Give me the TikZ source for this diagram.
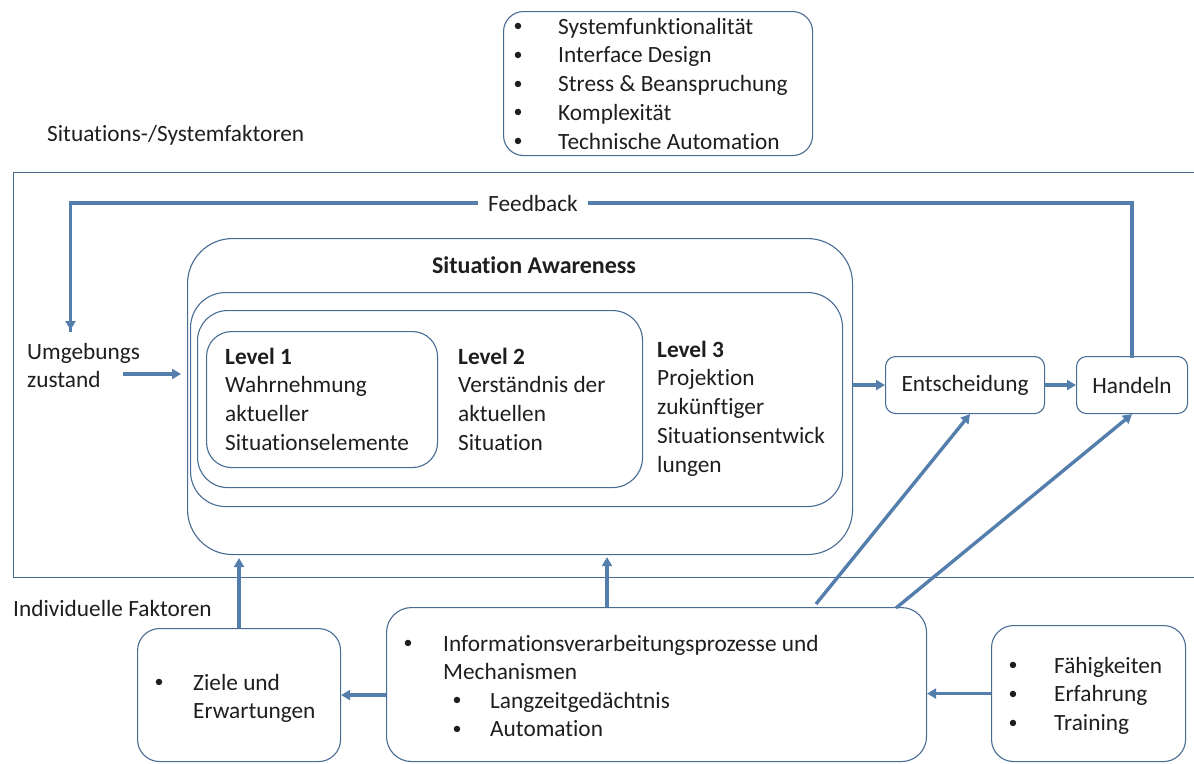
\documentclass[tikz,border=0pt]{standalone}
\usepackage{fontspec}
\setmainfont{Carlito}[Ligatures=NoCommon]
\usetikzlibrary{arrows.meta}
\definecolor{boxline}{RGB}{72,108,148}
\definecolor{arrowc}{RGB}{84,126,172}
\definecolor{ink}{RGB}{30,30,30}
% stack of lines, baseline = baseline of the first line
\newcommand{\txtlines}[1]{\vtop{\baselineskip=28.8pt\lineskiplimit=-20pt\halign{##\hfil\cr#1\crcr}}}
\newcommand{\bt}{\raisebox{2.5pt}{\fontsize{18}{20}\selectfont •}}
\begin{document}
\begin{tikzpicture}[x=1pt,y=-1pt,
  every node/.style={text=ink,font=\fontsize{23.3}{28}\selectfont},
  frame/.style={draw=boxline,line width=1.1pt,anchor=north west,inner sep=0pt},
  rbox/.style={frame,rounded corners=#1},
  txt/.style={anchor=base west,inner sep=0pt},
  bul/.style={anchor=base,inner sep=0pt},
  arr/.style={draw=arrowc,line width=3.4pt,-{Triangle[length=9pt,width=10pt]}},
  fline/.style={draw=arrowc,line width=3.4pt}]
\useasboundingbox (0,0) rectangle (1194,763);

% boxes
\node[frame,minimum width=1190pt,minimum height=405pt] (outer) at (13,172) {};
\node[rbox=20pt,minimum width=309pt,minimum height=144pt] (sys) at (503,11) {};
\node[rbox=45pt,minimum width=665pt,minimum height=316pt] (sa) at (187,238) {};
\node[rbox=35pt,minimum width=652pt,minimum height=214pt] (lvlc) at (190,292) {};
\node[rbox=30pt,minimum width=445pt,minimum height=177pt] (lvlb) at (197,310) {};
\node[rbox=25pt,minimum width=231pt,minimum height=136pt] (lvla) at (206,331) {};
\node[rbox=10pt,minimum width=159pt,minimum height=57pt] (ent) at (885,356) {};
\node[rbox=10pt,minimum width=111pt,minimum height=57pt] (hand) at (1076,356) {};
\node[rbox=22pt,minimum width=203pt,minimum height=133pt] (ziele) at (137,628) {};
\node[rbox=25pt,minimum width=540pt,minimum height=154pt] (info) at (386,607) {};
\node[rbox=22pt,minimum width=194pt,minimum height=136pt] (fah) at (991,625) {};

% texts
\node[bul] (sysb) at (518,34) {\txtlines{\bt\cr\bt\cr\bt\cr\bt\cr\bt}};
\node[txt] (syst) at (558,34) {\txtlines{Systemfunktionalität\cr Interface Design\cr Stress \& Beanspruchung\cr Komplexität\cr Technische Automation}};
\node[txt] (sitsys) at (47,141) {Situations-/Systemfaktoren};
\node[txt] (umg) at (27,359) {\txtlines{Umgebungs\cr zustand}};
\node[bul] (satitle) at (534,273) {\fontsize{24}{28}\selectfont\textbf{Situation Awareness}};
\node[txt] (la) at (225,364) {\txtlines{\textbf{Level 1}\cr Wahrnehmung\cr aktueller\cr Situationselemente}};
\node[txt] (lb) at (458,364) {\txtlines{\textbf{Level 2}\cr Verständnis der\cr aktuellen\cr Situation}};
\node[txt] (lc) at (657,357) {\txtlines{\textbf{Level 3}\cr Projektion\cr zukünftiger\cr Situationsentwick\cr lungen}};
\node (entt) at (ent.center) {Entscheidung};
\node (handt) at (hand.center) {Handeln};
\node[txt] (indiv) at (13,616) {Individuelle Faktoren};
\node[bul] (zieleb) at (159,690) {\bt};
\node[txt] (zielet) at (193,690) {\txtlines{Ziele und\cr Erwartungen}};
\node[bul] (infob) at (408,651) {\bt};
\node[txt] (infot) at (443,651) {\txtlines{Informationsverarbeitungsprozesse und\cr Mechanismen}};
\node[bul] (infosb) at (457,708) {\txtlines{\bt\cr\bt}};
\node[txt] (infost) at (490,708) {\txtlines{Langzeitgedächtnis\cr Automation}};
\node[bul] (fahb) at (1013,673) {\txtlines{\bt\cr\bt\cr\bt}};
\node[txt] (faht) at (1054,673) {\txtlines{Fähigkeiten\cr Erfahrung\cr Training}};

% connectors
\coordinate (fb) at (533,203);
\coordinate (umgin) at (70.5,330);
\draw[fline,line cap=rect] (hand.north) -- (hand.north |- fb) -- (umgin |- fb) -- (umgin);
\draw[arr] (umgin |- fb) -- (umgin);
\node[fill=white,inner xsep=10pt,inner ysep=4pt] (feedback) at (fb) {Feedback};

\coordinate (umgout) at (123,374);
\draw[arr,shorten >=6pt] (umgout) -- (umgout -| sa.west);
\draw[arr] (sa.east |- ent.west) -- (ent.west);
\draw[arr] (ent.east) -- (hand.west);
\draw[arr,shorten >=3pt] (ziele.north) -- (ziele.north |- sa.south);
\coordinate (infoup) at (607,607);
\draw[arr,shorten >=2pt] (infoup) -- (infoup |- sa.south);
\draw[arr] (info.west |- ziele.east) -- (ziele.east);
\draw[arr] (fah.west) -- (fah.west -| info.east);
\coordinate (dA) at (816,604);
\coordinate (dB) at (896,608);
\draw[arr] (dA) -- ([xshift=5pt]ent.south);
\draw[arr] (dB) -- (hand.south);
\end{tikzpicture}
\end{document}
